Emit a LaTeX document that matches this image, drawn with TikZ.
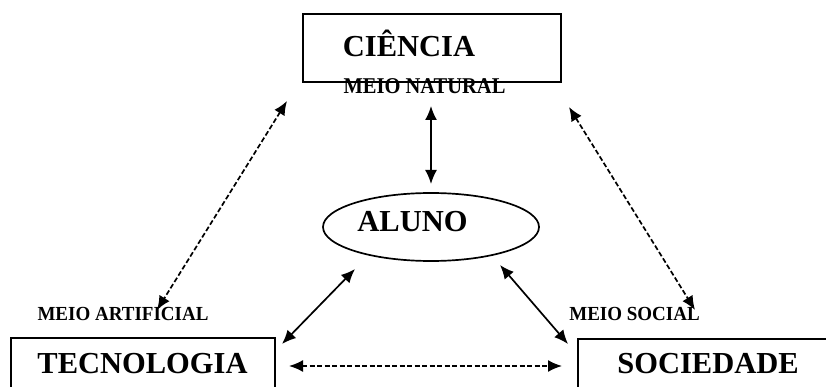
\documentclass[tikz,border=0pt]{standalone}
\usepackage{fontspec}
\setmainfont{Liberation Serif}
\usetikzlibrary{arrows.meta,shapes.geometric}
\begin{document}
\begin{tikzpicture}[x=1pt,y=-1pt,
  frame/.style={draw, line width=1.8pt, inner sep=0pt},
  big/.style={font=\fontsize{30.5}{30}\selectfont\bfseries, inner sep=0pt, anchor=base},
  small/.style={font=\fontsize{19}{19}\selectfont\bfseries, inner sep=0pt, anchor=base},
  arr/.style={line width=1.7pt, {Latex[length=14pt,width=12pt]}-{Latex[length=14pt,width=12pt]}},
  darr/.style={arr, dash pattern=on 5pt off 2.5pt},
]
\useasboundingbox (0,0) rectangle (826,387);
\clip (0,0) rectangle (826,387);

% frames
\node[frame, minimum width=258pt, minimum height=68pt] (ciencia) at (432,48) {};
\node[frame, minimum width=264pt, minimum height=62pt] (tecnologia) at (143,369) {};
\node[frame, minimum width=262pt, minimum height=61pt] (sociedade) at (709,369.5) {};
\node[draw, ellipse, line width=1.7pt, inner sep=0pt, minimum width=216pt, minimum height=68pt] (aluno) at (431,227) {};

% texts
\node[small, font=\fontsize{20.5}{20.5}\selectfont\bfseries] (natural) at (424.5,94) {\scalebox{1}[1.1]{MEIO NATURAL}};
\node[big] (cienciaT) at (409,57) {CIÊNCIA};
\node[big] (alunoT) at (412.5,231) {ALUNO};
\node[big] (tecT) at (142.5,373) {TECNOLOGIA};
\node[big] (socT) at (708,373) {SOCIEDADE};
\node[small] (artificial) at (123,320) {\scalebox{1}[1.05]{MEIO ARTIFICIAL}};
\node[small] (social) at (634.5,320) {\scalebox{1}[1.05]{MEIO SOCIAL}};

% arrow ends
\coordinate (v1) at (431,106);
\coordinate (v2) at (431,184);
\coordinate (l1) at (287,101);
\coordinate (l2) at (157,310);
\coordinate (r1) at (569,107);
\coordinate (r2) at (695,310);
\coordinate (sl1) at (355,269);
\coordinate (sl2) at (282,344);
\coordinate (sr1) at (500,265);
\coordinate (sr2) at (568,344);
\coordinate (h1) at (289,366);
\coordinate (h2) at (562,366);

\draw[arr] (v1) -- (v2);
\draw[darr] (l1) -- (l2);
\draw[darr] (r1) -- (r2);
\draw[arr] (sl1) -- (sl2);
\draw[arr] (sr1) -- (sr2);
\draw[darr] (h1) -- (h2);
\end{tikzpicture}
\end{document}
